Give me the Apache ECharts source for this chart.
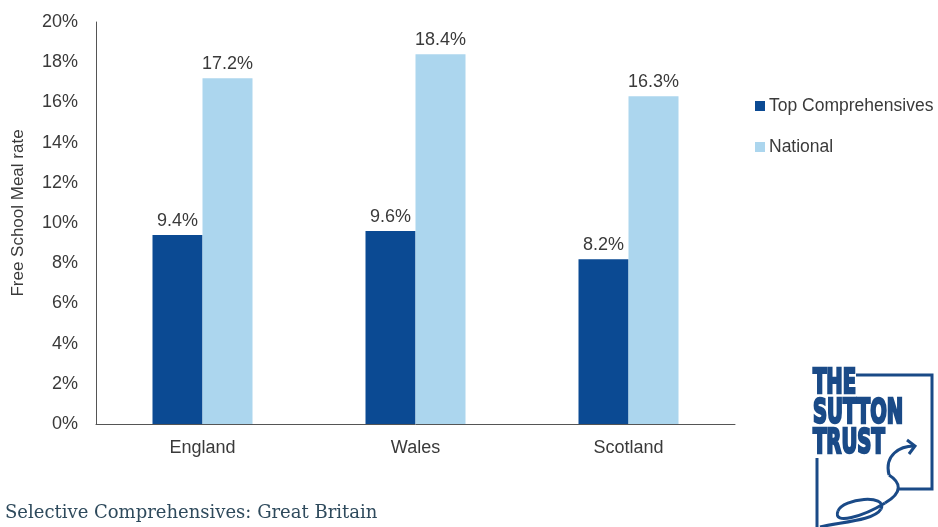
<!DOCTYPE html>
<html>
<head>
<meta charset="utf-8">
<script src="https://cdn.jsdelivr.net/npm/echarts@6/dist/echarts.min.js"></script>
<style>
  html, body { margin: 0; padding: 0; background: #fff; }
  #chart { width: 938px; height: 527px; }
</style>
</head>
<body>
<div id="chart"></div>
<script>
// Free School Meal rates by nation
const categories = ['England', 'Wales', 'Scotland'];
const topComprehensives = [9.4, 9.6, 8.2];
const national = [17.2, 18.4, 16.3];
const seriesNames = ['Top Comprehensives', 'National'];

const DARK = '#0b4a93';
const LIGHT = '#acd6ee';
const TEXT = '#3a3a3a';
const LOGO = '#1a4a87';
const SANS = 'Liberation Sans, Arial, sans-serif';

const chart = echarts.init(document.getElementById('chart'));

const labelStyle = {
  show: true,
  position: 'top',
  distance: 5,
  color: TEXT,
  fontFamily: SANS,
  fontSize: 18,
  formatter: p => p.value.toFixed(1) + '%'
};

// swirl strokes of the logo mark
function curve(x1, y1, cpx1, cpy1, cpx2, cpy2, x2, y2) {
  return {
    type: 'bezierCurve',
    shape: { x1, y1, cpx1, cpy1, cpx2, cpy2, x2, y2 },
    style: { stroke: LOGO, lineWidth: 3, fill: null }
  };
}

chart.setOption({
  animation: false,
  backgroundColor: '#ffffff',
  grid: { left: 96, right: 203, top: 22, bottom: 103 },
  legend: {
    orient: 'vertical',
    left: 750,
    top: 92,
    itemWidth: 10,
    itemHeight: 10,
    itemGap: 23,
    icon: 'rect',
    textStyle: { color: TEXT, fontSize: 17.5, fontFamily: SANS, padding: [0, 0, 0, -1] },
    data: seriesNames
  },
  xAxis: {
    type: 'category',
    data: categories,
    axisLine: { lineStyle: { color: '#555', width: 1 } },
    axisTick: { show: false },
    axisLabel: { color: TEXT, fontSize: 18, margin: 15, fontFamily: SANS }
  },
  yAxis: {
    type: 'value',
    min: 0,
    max: 20,
    interval: 2,
    axisLine: { show: true, lineStyle: { color: '#555', width: 1 } },
    axisTick: { show: false },
    splitLine: { show: false },
    axisLabel: {
      color: TEXT,
      fontSize: 18,
      margin: 18,
      fontFamily: SANS,
      formatter: v => v + '%'
    }
  },
  series: [
    {
      name: seriesNames[0],
      type: 'bar',
      data: topComprehensives,
      barWidth: 50,
      barGap: '0%',
      itemStyle: { color: DARK },
      label: labelStyle
    },
    {
      name: seriesNames[1],
      type: 'bar',
      data: national,
      barWidth: 50,
      barGap: '0%',
      itemStyle: { color: LIGHT },
      label: labelStyle
    }
  ],
  graphic: [
    // vertical axis title
    {
      type: 'text',
      x: 18,
      y: 213,
      rotation: Math.PI / 2,
      style: {
        text: 'Free School Meal rate',
        fill: TEXT,
        font: '17px "Liberation Sans", Arial, sans-serif',
        textAlign: 'center',
        textVerticalAlign: 'middle'
      }
    },
    {
      type: 'text',
      x: 5,
      y: 513,
      style: {
        text: 'Selective Comprehensives: Great Britain',
        fill: '#2e4a5c',
        font: '18px "DejaVu Serif", "Liberation Serif", serif',
        textVerticalAlign: 'middle'
      }
    },
    // Sutton Trust mark: frame, wordmark and swirl
    {
      type: 'polyline',
      shape: { points: [[856, 375], [932, 375], [932, 489], [898, 489]] },
      style: { stroke: LOGO, lineWidth: 3, fill: null }
    },
    {
      type: 'line',
      shape: { x1: 817, y1: 458, x2: 817, y2: 527 },
      style: { stroke: LOGO, lineWidth: 3 }
    },
    {
      type: 'text',
      x: 813,
      y: 369,
      scaleX: 0.64,
      style: {
        text: 'THE\nSUTTON\nTRUST',
        fill: LOGO,
        stroke: LOGO,
        lineWidth: 2.5,
        font: 'bold 34px "DejaVu Sans Condensed", "DejaVu Sans", sans-serif',
        lineHeight: 30
      }
    },
    curve(889, 475, 884, 455, 900, 446, 914, 446),
    {
      type: 'polyline',
      shape: { points: [[907, 440], [915, 446], [909, 454]] },
      style: { stroke: LOGO, lineWidth: 3, fill: null }
    },
    curve(889, 475, 900, 482, 904, 492, 885, 503),
    curve(885, 503, 864, 516, 832, 526, 838, 511),
    curve(838, 511, 843, 498, 888, 494, 881, 509),
    curve(881, 509, 874, 521, 840, 522, 820, 527)
  ]
});
</script>
</body>
</html>
